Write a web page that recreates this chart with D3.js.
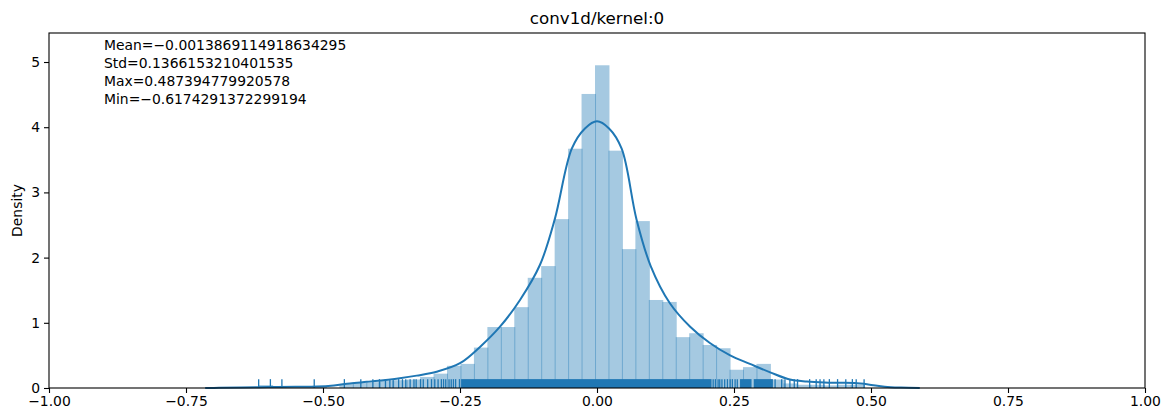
<!DOCTYPE html>
<html lang="en">
<head>
<meta charset="UTF-8">
<title>conv1d/kernel:0</title>
<style>
  body { margin: 0; background: #fff; }
  text { font-family: "DejaVu Sans", sans-serif; fill: #000; }
  .axis text { font-size: 13.9px; }
  .axis line { stroke: #000; stroke-width: 1.1px; }
  .axis .domain { display: none; }
  .frame { fill: none; stroke: #000; stroke-width: 1.1px; }
  .kde { fill: none; stroke: #1f77b4; stroke-width: 2px; }
  .rug { stroke: #1f77b4; stroke-width: 1.3px; }
</style>
</head>
<body>
<svg width="1168" height="412"></svg>
<script src="https://d3js.org/d3.v7.min.js"></script>
<script>
// summary shown top left
var statLines = [
  "Mean=\u22120.0013869114918634295",
  "Std=0.1366153210401535",
  "Max=0.487394779920578",
  "Min=\u22120.6174291372299194"
];

var dataMin = -0.6174291372299194,
    dataMax = 0.487394779920578,
    binCount = 45;

// density of each histogram bin
var histDensity = [
  0.045, 0.02, 0, 0, 0.02, 0, 0.06, 0.08, 0.09, 0.11,
  0.12, 0.13, 0.17, 0.22, 0.34, 0.37, 0.62, 0.935, 0.935, 1.24,
  1.69, 1.87, 2.59, 3.67, 4.51, 4.95, 3.64, 2.13, 2.56, 1.35,
  1.32, 0.78, 0.84, 0.66, 0.61, 0.28, 0.32, 0.37, 0.13, 0.07,
  0.05, 0.05, 0.04, 0.05, 0.05
];

// kde curve points
var kdeX = [-0.715, -0.69, -0.65, -0.60, -0.55, -0.511, -0.48, -0.451, -0.42, -0.39,
            -0.36, -0.329, -0.2925, -0.25, -0.2135, -0.177, -0.1405, -0.104, -0.077, -0.046,
            -0.022, 0, 0.022, 0.045, 0.072, 0.098, 0.133, 0.170, 0.206, 0.243,
            0.279, 0.316, 0.352, 0.383, 0.415, 0.443, 0.47, 0.495, 0.525, 0.555, 0.589];
var kdeY = [0, 0.003, 0.008, 0.014, 0.018, 0.022, 0.04, 0.07, 0.095, 0.12,
            0.15, 0.19, 0.25, 0.38, 0.63, 0.94, 1.35, 1.89, 2.59, 3.67,
            3.98, 4.09, 3.98, 3.67, 2.59, 1.87, 1.30, 0.94, 0.69, 0.50,
            0.37, 0.24, 0.13, 0.10, 0.085, 0.08, 0.075, 0.055, 0.02, 0.006, 0];

// single rug ticks
var rugValues = [
  -0.6174, -0.596, -0.575, -0.516, -0.461, -0.431, -0.409, -0.397, -0.386, -0.378,
  -0.372, -0.362, -0.355, -0.349, -0.341, -0.334, -0.330, -0.322, -0.317, -0.309,
  -0.302, -0.296, -0.290, -0.284, -0.280, -0.276, -0.270, -0.266, -0.262, -0.258, -0.251,
  0.212, 0.216, 0.221, 0.224, 0.228, 0.233, 0.238, 0.243, 0.247, 0.252, 0.256,
  0.325, 0.337, 0.343, 0.352, 0.360, 0.366, 0.388, 0.400, 0.407, 0.414,
  0.424, 0.439, 0.454, 0.466, 0.473, 0.4874
];
// stretches where the rug ticks run together
var rugBands = [[-0.248, 0.209], [0.261, 0.282], [0.286, 0.321]];

var xTicks = [-1, -0.75, -0.5, -0.25, 0, 0.25, 0.5, 0.75, 1];
var yTicks = [0, 1, 2, 3, 4, 5];

var svg = d3.select("svg");
var plotLeft = 49, plotRight = 1145, plotTop = 33, plotBottom = 388;

var x = d3.scaleLinear().domain([-1, 1]).range([plotLeft, plotRight]);
var y = d3.scaleLinear().domain([0, 5.445]).range([plotBottom, plotTop]);

var binWidth = (dataMax - dataMin) / binCount;

// bars (1px overlap gives the darker seams like the original)
svg.append("g")
  .selectAll("rect")
  .data(histDensity)
  .enter().append("rect")
  .attr("x", function(d, i) { return x(dataMin + i * binWidth); })
  .attr("y", function(d) { return y(d); })
  .attr("width", function(d, i) { return x(dataMin + (i + 1) * binWidth) - x(dataMin + i * binWidth) + 1; })
  .attr("height", function(d) { return plotBottom - y(d); })
  .attr("fill", "#1f77b4")
  .attr("fill-opacity", 0.4);

var line = d3.line()
  .x(function(d) { return x(d[0]); })
  .y(function(d) { return Math.min(y(d[1]), plotBottom); })
  .curve(d3.curveCatmullRom.alpha(0.5));

svg.append("path")
  .attr("class", "kde")
  .attr("d", line(kdeX.map(function(v, i) { return [v, kdeY[i]]; })));

// rug
var rugH = 0.025 * (plotBottom - plotTop);
svg.append("g")
  .selectAll("rect")
  .data(rugBands)
  .enter().append("rect")
  .attr("x", function(d) { return x(d[0]); })
  .attr("width", function(d) { return x(d[1]) - x(d[0]); })
  .attr("y", plotBottom - rugH)
  .attr("height", rugH)
  .attr("fill", "#1f77b4");

svg.append("g")
  .selectAll("line")
  .data(rugValues)
  .enter().append("line")
  .attr("class", "rug")
  .attr("x1", function(d) { return x(d); })
  .attr("x2", function(d) { return x(d); })
  .attr("y1", plotBottom)
  .attr("y2", plotBottom - rugH);

// axes
svg.append("g")
  .attr("class", "axis")
  .attr("transform", "translate(0," + plotBottom + ")")
  .call(d3.axisBottom(x).tickValues(xTicks).tickFormat(d3.format(".2f")).tickSize(5).tickPadding(3));

svg.append("g")
  .attr("class", "axis")
  .attr("transform", "translate(" + plotLeft + ",0)")
  .call(d3.axisLeft(y).tickValues(yTicks).tickFormat(d3.format("d")).tickSize(5).tickPadding(4));

svg.selectAll(".axis text").attr("fill", "#000");

svg.append("rect")
  .attr("class", "frame")
  .attr("x", plotLeft)
  .attr("y", plotTop)
  .attr("width", plotRight - plotLeft)
  .attr("height", plotBottom - plotTop);

// title and labels
svg.append("text")
  .attr("x", (plotLeft + plotRight) / 2)
  .attr("y", 24)
  .attr("text-anchor", "middle")
  .style("font-size", "16.7px")
  .text("conv1d/kernel:0");

svg.append("text")
  .attr("transform", "translate(22," + ((plotTop + plotBottom) / 2) + ") rotate(-90)")
  .attr("text-anchor", "middle")
  .style("font-size", "13.9px")
  .text("Density");

svg.append("g")
  .selectAll("text")
  .data(statLines)
  .enter().append("text")
  .attr("x", 104)
  .attr("y", function(d, i) { return 50 + i * 18; })
  .style("font-size", "13.9px")
  .text(function(d) { return d; });
</script>
</body>
</html>
